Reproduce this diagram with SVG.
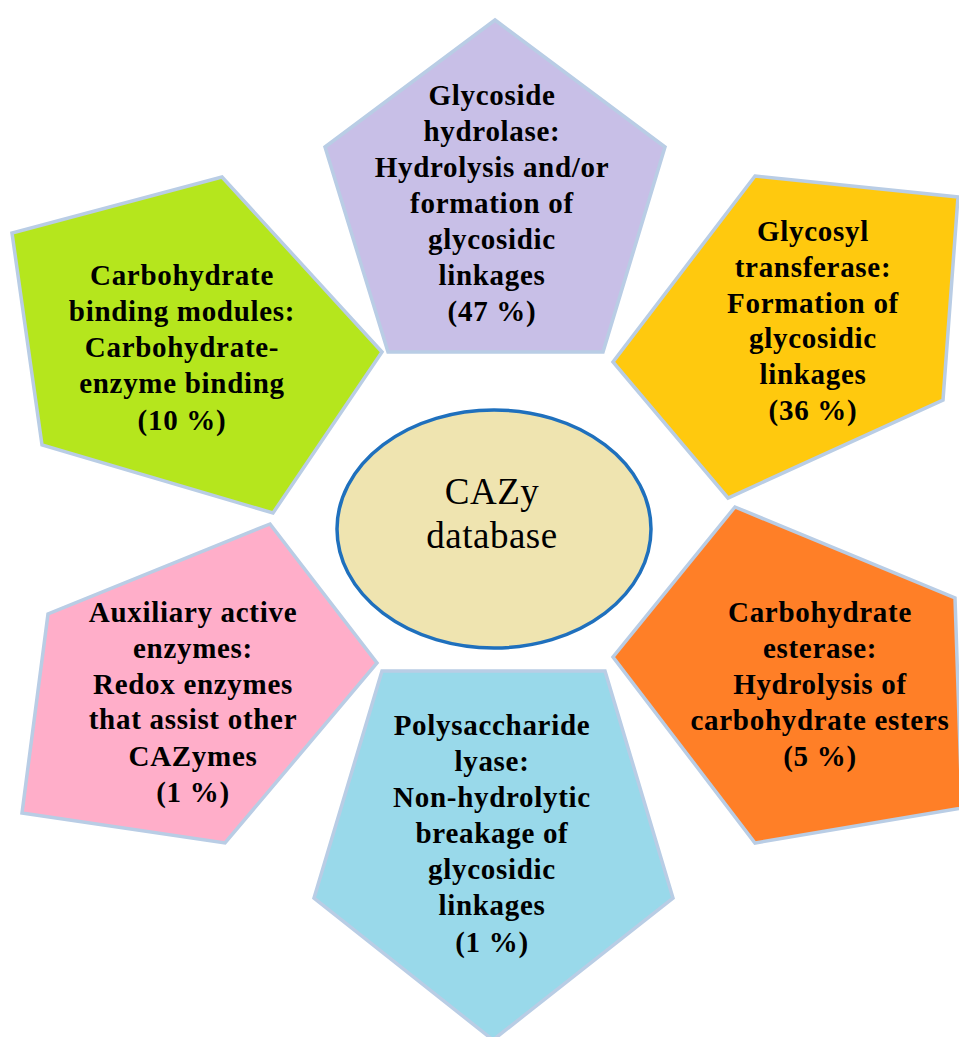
<svg xmlns="http://www.w3.org/2000/svg" width="959" height="1037" viewBox="0 0 959 1037">
<style>
.pent{stroke:#b9cde5;stroke-width:3.5;stroke-linejoin:miter}
.lbl{font-family:"Liberation Serif","Times New Roman",serif;font-weight:bold;font-size:29px;letter-spacing:0.7px;fill:#000;text-anchor:middle}
.ctr{font-family:"Liberation Serif","Times New Roman",serif;font-size:37px;letter-spacing:0.5px;fill:#000;text-anchor:middle}
</style>
<rect width="959" height="1037" fill="#ffffff"/>
<g id="glycoside-hydrolase">
<polygon class="pent" fill="#c8bfe7" points="495,20 665,147 603,352 388,352 325,147"/>
<text class="lbl"><tspan x="492" y="105">Glycoside</tspan><tspan x="492" y="141">hydrolase:</tspan><tspan x="492" y="177">Hydrolysis and/or</tspan><tspan x="492" y="213">formation of</tspan><tspan x="492" y="249">glycosidic</tspan><tspan x="492" y="285">linkages</tspan><tspan x="492" y="321">(47 %)</tspan></text>
</g>
<g id="carbohydrate-binding-modules">
<polygon class="pent" fill="#b5e61d" points="222,177 382,352 273,513 42,445 12,233"/>
<text class="lbl"><tspan x="182" y="285">Carbohydrate</tspan><tspan x="182" y="321">binding modules:</tspan><tspan x="182" y="357">Carbohydrate-</tspan><tspan x="182" y="393">enzyme binding</tspan><tspan x="182" y="430">(10 %)</tspan></text>
</g>
<g id="glycosyl-transferase">
<polygon class="pent" fill="#ffc90e" points="755,176 958,197 943,400 728,498 613,362"/>
<text class="lbl"><tspan x="813" y="241">Glycosyl</tspan><tspan x="813" y="277">transferase:</tspan><tspan x="813" y="313">Formation of</tspan><tspan x="813" y="348">glycosidic</tspan><tspan x="813" y="384">linkages</tspan><tspan x="813" y="420">(36 %)</tspan></text>
</g>
<g id="carbohydrate-esterase">
<polygon class="pent" fill="#ff7f27" points="735,507 955,598 962,808 755,843 613,657"/>
<text class="lbl"><tspan x="820" y="622">Carbohydrate</tspan><tspan x="820" y="658">esterase:</tspan><tspan x="820" y="694">Hydrolysis of</tspan><tspan x="820" y="730">carbohydrate esters</tspan><tspan x="820" y="766">(5 %)</tspan></text>
</g>
<g id="auxiliary-active-enzymes">
<polygon class="pent" fill="#ffaec9" points="270,524 377,663 225,843 22,813 48,614"/>
<text class="lbl"><tspan x="193" y="622">Auxiliary active</tspan><tspan x="193" y="658">enzymes:</tspan><tspan x="193" y="694">Redox enzymes</tspan><tspan x="193" y="729">that assist other</tspan><tspan x="193" y="766">CAZymes</tspan><tspan x="193" y="802">(1 %)</tspan></text>
</g>
<g id="polysaccharide-lyase">
<polygon class="pent" fill="#99d9ea" points="382,671 605,671 673,898 493,1040 314,898"/>
<text class="lbl"><tspan x="492" y="735">Polysaccharide</tspan><tspan x="492" y="771">lyase:</tspan><tspan x="492" y="807">Non-hydrolytic</tspan><tspan x="492" y="843">breakage of</tspan><tspan x="492" y="879">glycosidic</tspan><tspan x="492" y="915">linkages</tspan><tspan x="492" y="952">(1 %)</tspan></text>
</g>
<g id="cazy-database">
<ellipse cx="494" cy="529" rx="157" ry="119" fill="#efe4b0" stroke="#1f70bd" stroke-width="3.5"/>
<text class="ctr"><tspan x="492" y="504">CAZy</tspan><tspan x="492" y="548">database</tspan></text>
</g>
<g id="connectors"></g>
</svg>
